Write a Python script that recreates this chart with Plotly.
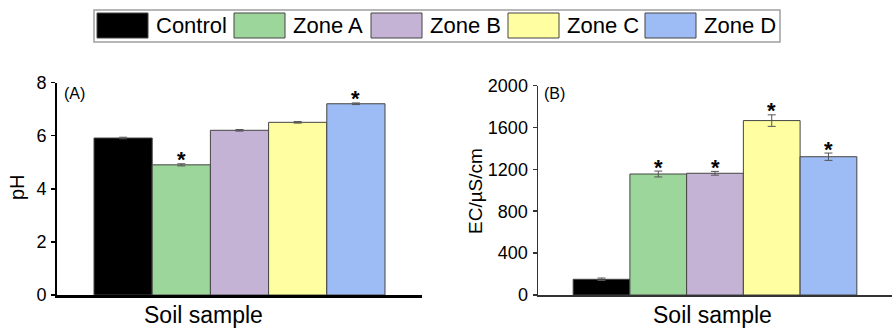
import plotly.graph_objects as go

# ---- data ----
zones = ["Control", "Zone A", "Zone B", "Zone C", "Zone D"]
colors = ["#000000", "#9DD69B", "#C5B3D6", "#FFFEA0", "#9DBBF4"]
ph_values = [5.91, 4.90, 6.20, 6.50, 7.20]
ph_errors = [0.03, 0.04, 0.03, 0.03, 0.03]
ph_sig = [False, True, False, False, True]
ec_values = [150, 1155, 1162, 1665, 1320]
ec_errors = [12, 28, 18, 55, 35]
ec_sig = [False, True, True, True, True]
ph_ticks = [0, 2, 4, 6, 8]
ec_ticks = [0, 400, 800, 1200, 1600, 2000]

W, H = 893, 329
FONT = "Arial, Liberation Sans, sans-serif"


def px(x):
    return x / W


def py(y):
    return (H - y) / H


fig = go.Figure()

for i, z in enumerate(zones):
    fig.add_trace(go.Bar(
        x=[i], y=[ph_values[i]], width=1, name=z,
        marker=dict(color=colors[i], line=dict(color="#444444", width=1)),
        error_y=dict(type="data", array=[ph_errors[i]], visible=True,
                     color="#555555", thickness=1, width=4),
        xaxis="x", yaxis="y", showlegend=False))
    fig.add_trace(go.Bar(
        x=[i], y=[ec_values[i]], width=1, name=z,
        marker=dict(color=colors[i], line=dict(color="#444444", width=1)),
        error_y=dict(type="data", array=[ec_errors[i]], visible=True,
                     color="#555555", thickness=1, width=4),
        xaxis="x2", yaxis="y2", showlegend=False))

annotations = []
for i in range(len(zones)):
    if ph_sig[i]:
        annotations.append(dict(x=i, y=ph_values[i] + ph_errors[i], xref="x", yref="y",
                                text="<b>*</b>", showarrow=False, yanchor="middle",
                                yshift=4, font=dict(family=FONT, size=22, color="black")))
    if ec_sig[i]:
        annotations.append(dict(x=i, y=ec_values[i] + ec_errors[i], xref="x2", yref="y2",
                                text="<b>*</b>", showarrow=False, yanchor="middle",
                                yshift=4, font=dict(family=FONT, size=22, color="black")))

# axis titles & panel labels
annotations += [
    dict(x=px(17), y=py(187), xref="paper", yref="paper", text="pH", textangle=-90,
         showarrow=False, xanchor="center", yanchor="middle",
         font=dict(family=FONT, size=20, color="black")),
    dict(x=px(475), y=py(191), xref="paper", yref="paper", text="EC/µS/cm", textangle=-90,
         showarrow=False, xanchor="center", yanchor="middle",
         font=dict(family=FONT, size=19, color="black")),
    dict(x=px(203), y=py(315), xref="paper", yref="paper", text="Soil sample",
         showarrow=False, xanchor="center", yanchor="middle",
         font=dict(family=FONT, size=23, color="black")),
    dict(x=px(712), y=py(315), xref="paper", yref="paper", text="Soil sample",
         showarrow=False, xanchor="center", yanchor="middle",
         font=dict(family=FONT, size=23, color="black")),
    dict(x=px(62), y=py(93), xref="paper", yref="paper", text="(A)",
         showarrow=False, xanchor="left", yanchor="middle",
         font=dict(family=FONT, size=16, color="black")),
    dict(x=px(542), y=py(93), xref="paper", yref="paper", text="(B)",
         showarrow=False, xanchor="left", yanchor="middle",
         font=dict(family=FONT, size=16, color="black")),
]

# legend drawn manually (large swatches)
shapes = [dict(type="rect", xref="paper", yref="paper",
               x0=px(94), x1=px(780), y0=py(42), y1=py(10),
               line=dict(color="#A0A0A0", width=1.5), fillcolor="rgba(0,0,0,0)")]
sw_starts = [97, 234, 371, 508, 645]
for i, z in enumerate(zones):
    x0 = sw_starts[i]
    shapes.append(dict(type="rect", xref="paper", yref="paper",
                       x0=px(x0), x1=px(x0 + 51), y0=py(38), y1=py(13),
                       line=dict(color="#444444", width=1), fillcolor=colors[i]))
    annotations.append(dict(x=px(x0 + 57), y=py(26), xref="paper", yref="paper",
                            text=z, showarrow=False, xanchor="left", yanchor="middle",
                            font=dict(family=FONT, size=22, color="black")))

fig.update_layout(
    width=W, height=H, autosize=False,
    margin=dict(l=0, r=0, t=0, b=0, pad=0, autoexpand=False),
    paper_bgcolor="white", plot_bgcolor="white",
    barmode="overlay", bargap=0,
    showlegend=False,
    font=dict(family=FONT, color="black"),
    xaxis=dict(domain=[px(57), px(422)], range=[-1.136, 5.136], showticklabels=False,
               ticks="", showgrid=False, zeroline=False, showline=True,
               linecolor="black", linewidth=2.5, anchor="y", automargin=False),
    yaxis=dict(domain=[py(295), py(82.5)], range=[0, 8], tickvals=ph_ticks,
               ticks="outside", ticklen=4, tickwidth=1.5, tickcolor="black",
               showgrid=False, zeroline=False, showline=True, linecolor="black",
               linewidth=2, tickfont=dict(family=FONT, size=18, color="black"),
               anchor="x", ticklabelstandoff=1, automargin=False),
    xaxis2=dict(domain=[px(538), px(892)], range=[-1.12, 5.12], showticklabels=False,
                ticks="", showgrid=False, zeroline=False, showline=True,
                linecolor="#333333", linewidth=1.5, anchor="y2", automargin=False),
    yaxis2=dict(domain=[py(295), py(85.5)], range=[0, 2000], tickvals=ec_ticks,
                ticks="outside", ticklen=4, tickwidth=1.5, tickcolor="#333333",
                showgrid=False, zeroline=False, showline=True, linecolor="#333333",
                linewidth=1.5, tickfont=dict(family=FONT, size=18, color="black"),
                anchor="x2", ticklabelstandoff=1, automargin=False),
    shapes=shapes,
    annotations=annotations,
)

fig.write_html("out.html",
               config={"displayModeBar": False, "staticPlot": True},
               post_script="document.body.style.margin='0';document.body.style.overflow='hidden';")
